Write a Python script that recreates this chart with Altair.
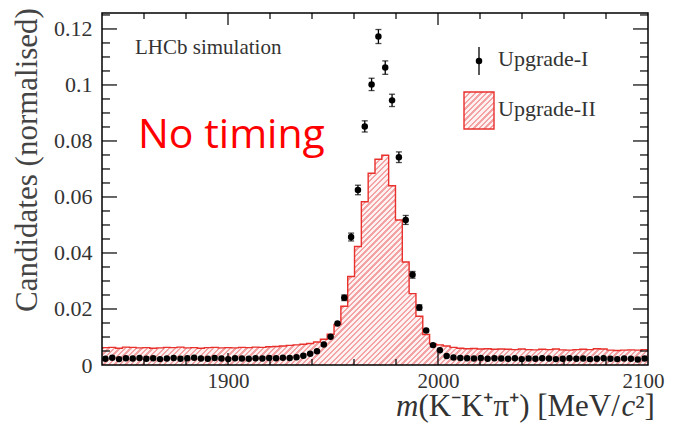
import altair as alt
import pandas as pd

# ---------------- data ----------------
X_MIN, X_MAX = 1840, 2100
N_BINS = 80
Y_MAX = 0.1257

# Upgrade-I (points), one value per bin
upgrade1 = [
    0.0022, 0.0026, 0.0021, 0.0024, 0.0023, 0.0025, 0.0022, 0.0024, 0.0021, 0.0023,
    0.0025, 0.0022, 0.0024, 0.0026, 0.0023, 0.0022, 0.0025, 0.0023, 0.0021, 0.0024,
    0.0023, 0.0022, 0.0024, 0.0023, 0.0025, 0.0024, 0.0026, 0.0025,
    0.0028, 0.0033, 0.0040, 0.0049, 0.0073, 0.0101, 0.0148, 0.0240, 0.0457, 0.0625,
    0.0852, 0.1002, 0.1173, 0.1062, 0.0945, 0.0742, 0.0518, 0.0322, 0.0205, 0.0123,
    0.0071, 0.0053, 0.0032, 0.0027,
    0.0025, 0.0024, 0.0023, 0.0025, 0.0022, 0.0024, 0.0023, 0.0022, 0.0024, 0.0021,
    0.0023, 0.0022, 0.0024, 0.0023, 0.0021, 0.0022, 0.0024, 0.0022, 0.0023, 0.0021,
    0.0022, 0.0024, 0.0022, 0.0021, 0.0023, 0.0022, 0.0020, 0.0023,
]
upgrade1_err = ([0.0004] * 35 +
                [0.0010, 0.0014, 0.0017, 0.0020, 0.0022, 0.0025, 0.0024,
                 0.0022, 0.0019, 0.0016, 0.0012, 0.0010, 0.0008] +
                [0.0004] * 32)

# Upgrade-II (hatched histogram), one value per bin
upgrade2 = [
    0.0062, 0.0063, 0.0060, 0.0064, 0.0063, 0.0061, 0.0062, 0.0060, 0.0061, 0.0063,
    0.0062, 0.0064, 0.0061, 0.0062, 0.0060, 0.0062, 0.0063, 0.0061, 0.0062, 0.0061,
    0.0063, 0.0062, 0.0064, 0.0063, 0.0065, 0.0066, 0.0068, 0.0070, 0.0072,
    0.0074, 0.0077, 0.0082, 0.0092, 0.0110, 0.0145, 0.0210, 0.0316, 0.0423, 0.0583,
    0.0685, 0.0735, 0.0749, 0.0640, 0.0518, 0.0368, 0.0255, 0.0174, 0.0109, 0.0075,
    0.0072,
    0.0068, 0.0063, 0.0060, 0.0058, 0.0059, 0.0057, 0.0058, 0.0056, 0.0057, 0.0056,
    0.0055, 0.0057, 0.0055, 0.0054, 0.0056, 0.0055, 0.0057, 0.0054, 0.0053, 0.0055,
    0.0056, 0.0055, 0.0058, 0.0057, 0.0053, 0.0052, 0.0053, 0.0054, 0.0053, 0.0055,
]

x_tick_labels = [1900, 2000, 2100]
y_tick_labels = [0, 0.02, 0.04, 0.06, 0.08, 0.10, 0.12]
x_major_ticks = [1900, 2000]
x_minor_ticks = [1860, 1880, 1920, 1940, 1960, 1980, 2020, 2040, 2060, 2080]
y_major_ticks = [0.02, 0.04, 0.06, 0.08, 0.10, 0.12]
y_minor_ticks = [0.005, 0.010, 0.015, 0.025, 0.030, 0.035, 0.045, 0.050, 0.055,
                 0.065, 0.070, 0.075, 0.085, 0.090, 0.095, 0.105, 0.110, 0.115, 0.125]

# ---------------- layout / style ----------------
W, H = 546, 352
SERIF = "Liberation Serif"
TXT = "#333333"
RED = "#e8302c"

bw = (X_MAX - X_MIN) / N_BINS
pts = pd.DataFrame({
    "x": [X_MIN + bw * (i + 0.5) for i in range(N_BINS)],
    "y": upgrade1,
    "err": upgrade1_err,
})
pts["lo"] = pts["y"] - pts["err"]
pts["hi"] = pts["y"] + pts["err"]
hist = pd.DataFrame({
    "x": [X_MIN + bw * i for i in range(N_BINS + 1)],
    "y": upgrade2 + [upgrade2[-1]],
})

xs = alt.Scale(domain=[X_MIN, X_MAX], nice=False, zero=False)
ys = alt.Scale(domain=[0, Y_MAX], nice=False)

xa = alt.Axis(values=x_tick_labels, ticks=False, domain=False, grid=False,
              labelFont=SERIF, labelFontSize=21, labelColor=TXT,
              labelPadding=5, labelFlush=True, labelFlushOffset=16,
              format="d", title=None)
ya = alt.Axis(values=y_tick_labels, ticks=False, domain=False, grid=False,
              labelFont=SERIF, labelFontSize=22, labelColor=TXT,
              labelPadding=10, labelFlush=False, format=".2~f", title=None)


def X(field):
    return alt.X(field, scale=xs, axis=xa)


def Y(field):
    return alt.Y(field, scale=ys, axis=ya)


def hatch(w, h, period=5.5, line="#f3a3a3", bg="#fdf1f1", duty=0.42):
    r = h / w
    k = (1 + r) / (1 + r * r)
    n = max(1, round((w + h) / period))
    stops = []
    for i in range(n):
        a, b, c = i / n, (i + duty) / n, (i + 1) / n
        stops += [alt.GradientStop(offset=a, color=line),
                  alt.GradientStop(offset=b, color=line),
                  alt.GradientStop(offset=b, color=bg),
                  alt.GradientStop(offset=c, color=bg)]
    return alt.LinearGradient(gradient="linear", stops=stops,
                              x1=0, y1=0, x2=k, y2=k * r)


area_h = max(upgrade2) / Y_MAX * H

area = alt.Chart(hist).mark_area(
    interpolate="step-after", fill=hatch(W, area_h)
).encode(x=X("x:Q"), y=Y("y:Q"))

outline = alt.Chart(hist).mark_line(
    interpolate="step-after", color=RED, strokeWidth=1.4
).encode(x=X("x:Q"), y=Y("y:Q"))

err_bars = alt.Chart(pts).mark_rule(color="black", strokeWidth=1.3).encode(
    x=X("x:Q"), y=Y("lo:Q"), y2="hi:Q",
)
caps_lo = alt.Chart(pts).transform_filter(alt.datum.err > 0.0009).mark_tick(
    orient="horizontal", size=6, thickness=1.3, color="black"
).encode(x=X("x:Q"), y=Y("lo:Q"))
caps_hi = alt.Chart(pts).transform_filter(alt.datum.err > 0.0009).mark_tick(
    orient="horizontal", size=6, thickness=1.3, color="black"
).encode(x=X("x:Q"), y=Y("hi:Q"))

points = alt.Chart(pts).mark_circle(size=42, color="black", opacity=1).encode(
    x=X("x:Q"), y=Y("y:Q"),
)


def yticks(vals, x0, x1):
    return alt.Chart(pd.DataFrame({"y": vals})).mark_rule(
        color="black", strokeWidth=1.2
    ).encode(y=Y("y:Q"), x=alt.value(x0), x2=alt.value(x1))


def xticks(vals, y0, y1):
    return alt.Chart(pd.DataFrame({"x": vals})).mark_rule(
        color="black", strokeWidth=1.2
    ).encode(x=X("x:Q"), y=alt.value(y0), y2=alt.value(y1))


tick_layers = [
    yticks(y_major_ticks, 0, 15), yticks(y_minor_ticks, 0, 8),
    yticks(y_major_ticks, W - 15, W), yticks(y_minor_ticks, W - 8, W),
    xticks(x_major_ticks, H, H - 12), xticks(x_minor_ticks, H, H - 6),
    xticks(x_major_ticks, 0, 12), xticks(x_minor_ticks, 0, 6),
]

dummy = pd.DataFrame({"a": [0]})

frame = alt.Chart(dummy).mark_rect(filled=False, stroke="black", strokeWidth=1.5).encode(
    x=alt.value(0), x2=alt.value(W), y=alt.value(0), y2=alt.value(H)
)


def label(text, x, y, size, color=TXT, font=SERIF, align="left",
          baseline="alphabetic", angle=0, style="normal"):
    return alt.Chart(dummy).mark_text(
        text=text, font=font, fontSize=size, color=color, align=align,
        baseline=baseline, angle=angle, fontStyle=style
    ).encode(x=alt.value(x), y=alt.value(y))


TF = 31
TX0 = 294          # left edge of the x-axis title (plot coordinates)
TY = 403           # baseline of the x-axis title
texts = [
    label("LHCb simulation", 33, 41, 21),
    label("No timing", 36, 135, 41, color="#ff0000", font="Open Sans"),
    label("Upgrade-I", 396, 53, 22),
    label("Upgrade-II", 396, 103, 22),
    label("Candidates (normalised)", -74, 147, 31, color="#444444",
          align="center", baseline="middle", angle=270),
    label("m", TX0, TY, TF, style="italic"),
    label("(K\u207bK\u207a\u03c0\u207a) [MeV/", TX0 + 0.722 * TF, TY, TF),
    label("c", TX0 + (0.722 + 6.55) * TF, TY, TF, style="italic"),
    label("\u00b2]", TX0 + (0.722 + 6.55 + 0.444) * TF, TY, TF),
]

leg_bar = alt.Chart(dummy).mark_rule(color="black", strokeWidth=1.3).encode(
    x=alt.value(377), y=alt.value(34), y2=alt.value(62)
)
leg_pt = alt.Chart(dummy).mark_circle(size=42, color="black", opacity=1).encode(
    x=alt.value(377), y=alt.value(48)
)
leg_box = alt.Chart(dummy).mark_rect(
    fill=hatch(30, 37), stroke=RED, strokeWidth=1.4
).encode(x=alt.value(362), x2=alt.value(392), y=alt.value(79), y2=alt.value(116))

chart = alt.layer(
    area, outline, err_bars, caps_lo, caps_hi, points,
    *tick_layers, frame, leg_bar, leg_pt, leg_box, *texts
).properties(
    width=W, height=H,
    padding={"left": 94, "top": 5, "right": 18, "bottom": 59},
    autosize=alt.AutoSizeParams(type="none"),
    background="white",
).configure_view(strokeWidth=0)

chart.save("out.html", embed_options={"renderer": "svg", "actions": False})
